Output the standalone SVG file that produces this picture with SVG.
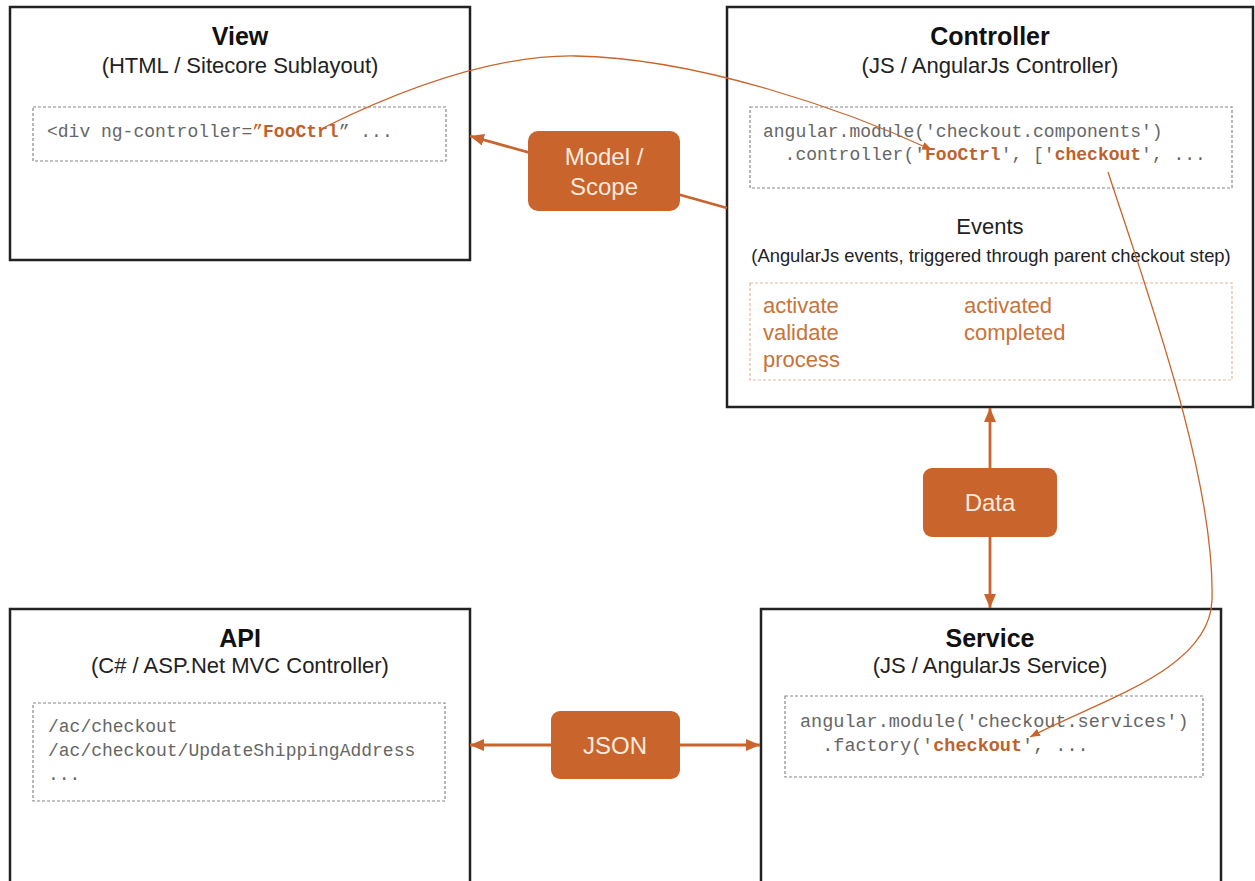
<svg xmlns="http://www.w3.org/2000/svg" width="1255" height="881" viewBox="0 0 1255 881">
<style>
.box{fill:#fff;stroke:#222;stroke-width:2.5}
.dot{fill:none;stroke:#888;stroke-width:1.2;stroke-dasharray:3 2}
.dotor{fill:none;stroke:#e3b99c;stroke-width:1.2;stroke-dasharray:3 2}
.title{font-family:"Liberation Sans",Arial,sans-serif;font-weight:bold;font-size:25px;fill:#111;text-anchor:middle}
.sub{font-family:"Liberation Sans",Arial,sans-serif;font-size:22px;fill:#222;text-anchor:middle}
.code{font-family:"Liberation Mono","Courier New",monospace;font-size:18px;fill:#666}
.hl{fill:#c0612b;font-weight:bold}
.ev{font-family:"Liberation Sans",Arial,sans-serif;font-size:22px;fill:#c87339}
.pill{fill:#c8642c}
.pt{font-family:"Liberation Sans",Arial,sans-serif;font-size:24px;fill:#fbeadd;text-anchor:middle}
.thick{stroke:#c8642c;stroke-width:2.8;fill:none}
.thin{stroke:#c8642c;stroke-width:1.3;fill:none}
</style>
<defs>
<marker id="ah" viewBox="0 0 14 12" refX="14" refY="6" markerWidth="14" markerHeight="12" markerUnits="userSpaceOnUse" orient="auto-start-reverse">
<path d="M0,0 L14,6 L0,12 z" fill="#c8642c"/>
</marker>
<marker id="sh" viewBox="0 0 10 8" refX="10" refY="4" markerWidth="10" markerHeight="8" markerUnits="userSpaceOnUse" orient="auto">
<path d="M0,0 L10,4 L0,8 z" fill="#c8642c"/>
</marker>
</defs>
<rect width="1255" height="881" fill="#fff"/>

<g id="view">
<rect class="box" x="10" y="7" width="460" height="253"/>
<text class="title" x="240" y="45">View</text>
<text class="sub" x="240" y="73">(HTML / Sitecore Sublayout)</text>
<rect class="dot" x="33" y="107" width="413" height="54"/>
<text class="code" x="47" y="137">&lt;div ng-controller=<tspan fill="#c0612b">”</tspan><tspan class="hl">FooCtrl</tspan>” ...</text>
</g>

<g id="controller">
<rect class="box" x="727" y="7" width="526" height="400"/>
<text class="title" x="990" y="45">Controller</text>
<text class="sub" x="990" y="73">(JS / AngularJs Controller)</text>
<rect class="dot" x="750" y="107" width="482" height="81"/>
<text class="code" x="763" y="137">angular.module('checkout.components')</text>
<text class="code" x="763" y="160" xml:space="preserve">  .controller('<tspan class="hl">FooCtrl</tspan>', ['<tspan class="hl">checkout</tspan>', ...</text>
<text class="sub" x="990" y="234">Events</text>
<text class="sub" x="991" y="262" style="font-size:18.4px">(AngularJs events, triggered through parent checkout step)</text>
<rect class="dotor" x="750" y="283" width="482" height="97"/>
<text class="ev" x="763" y="313">activate</text>
<text class="ev" x="763" y="340">validate</text>
<text class="ev" x="763" y="367">process</text>
<text class="ev" x="964" y="313">activated</text>
<text class="ev" x="964" y="340">completed</text>
</g>

<g id="api">
<rect class="box" x="10" y="609" width="460" height="285"/>
<text class="title" x="240" y="647">API</text>
<text class="sub" x="240" y="673">(C# / ASP.Net MVC Controller)</text>
<rect class="dot" x="33" y="703" width="412" height="98"/>
<text class="code" x="48" y="732">/ac/checkout</text>
<text class="code" x="48" y="756">/ac/checkout/UpdateShippingAddress</text>
<text class="code" x="48" y="780">...</text>
</g>

<g id="service">
<rect class="box" x="761" y="609" width="460" height="285"/>
<text class="title" x="990" y="647">Service</text>
<text class="sub" x="990" y="673">(JS / AngularJs Service)</text>
<rect class="dot" x="785" y="696" width="418" height="81"/>
<text class="code" x="800" y="727" style="font-size:18.5px">angular.module('checkout.services')</text>
<text class="code" x="800" y="751" style="font-size:18.5px" xml:space="preserve">  .factory('<tspan class="hl">checkout</tspan>', ...</text>
</g>

<g id="connectors">
<line class="thick" x1="727" y1="208" x2="470" y2="136" marker-end="url(#ah)"/>
<line class="thick" x1="990" y1="408" x2="990" y2="608" marker-start="url(#ah)" marker-end="url(#ah)"/>
<line class="thick" x1="470" y1="745" x2="760" y2="745" marker-start="url(#ah)" marker-end="url(#ah)"/>
<path class="thin" d="M 323 128 C 410 85, 500 55, 575 56 C 700 58, 850 112, 932 150" marker-end="url(#sh)"/>
<path class="thin" d="M 1108 172 C 1150 300, 1215 480, 1212 600 C 1210 670, 1100 700, 1030 737" marker-end="url(#sh)"/>
</g>

<g id="model-scope">
<rect class="pill" x="528" y="131" width="152" height="80" rx="10"/>
<text class="pt" x="604" y="165">Model /</text>
<text class="pt" x="604" y="195">Scope</text>
</g>
<g id="data">
<rect class="pill" x="923" y="468" width="134" height="69" rx="9"/>
<text class="pt" x="990" y="511">Data</text>
</g>
<g id="json">
<rect class="pill" x="551" y="711" width="129" height="68" rx="9"/>
<text class="pt" x="615" y="754">JSON</text>
</g>
</svg>
